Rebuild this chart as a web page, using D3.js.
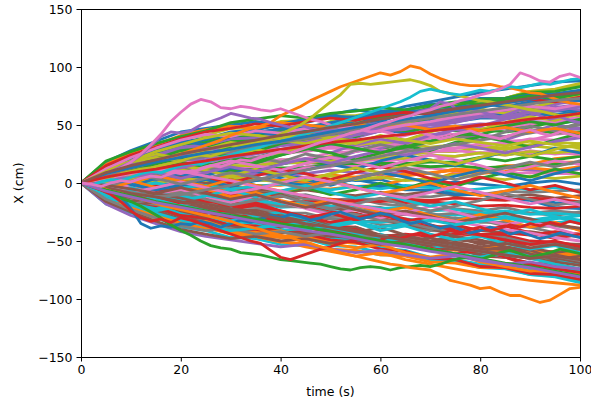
<!DOCTYPE html>
<html><head><meta charset="utf-8">
<script src="https://cdn.jsdelivr.net/npm/d3@7"></script>
<style>
body{margin:0;background:#fff}
svg{display:block}
text{font-family:"DejaVu Sans",sans-serif}
</style>
</head><body>
<svg id="chart" width="591" height="407"></svg>
<script>
// ---- data ----
const xTicks = [0, 20, 40, 60, 80, 100];
const yTicks = [-150, -100, -50, 0, 50, 100, 150];
const xLabel = "time (s)";
const yLabel = "X (cm)";
const coarseTimes = d3.range(0, 101, 5);   // sample times of the bulk walks (s)
const fineTimes = d3.range(0, 101, 2);     // sample times of the edge walks (s)

// bulk walks, X (cm) read every 5 s
const bulkWalks = [
[0,14,22,27,33,35,40,41,44,45,42,44,46,43,47,49,46,50,52,51,54],
[0,-15,-21,-29,-33,-37,-40,-44,-42,-47,-49,-46,-51,-54,-52,-56,-58,-55,-60,-62,-61],
[0,4,9,5,12,14,20,22,28,31,37,40,46,47,54,56,61,63,69,71,76],
[0,-3,-5,-2,-10,-12,-19,-20,-28,-29,-37,-38,-46,-47,-54,-55,-63,-64,-71,-72,-79],
[0,9,13,16,20,22,24,27,28,30,33,31,35,37,36,39,41,40,44,45,47],
[0,-8,-12,-15,-18,-22,-24,-23,-27,-29,-31,-34,-32,-36,-38,-37,-41,-43,-42,-45,-46],
[0,1,-3,2,5,3,8,11,9,14,16,13,18,21,19,23,26,24,28,25,27],
[0,-3,1,-2,-6,-4,-9,-7,-12,-10,-15,-13,-18,-20,-17,-22,-24,-21,-26,-28,-25],
[0,13,20,24,31,33,40,42,46,47,53,54,59,61,66,68,72,73,79,80,84],
[0,-14,-21,-24,-32,-34,-40,-42,-47,-48,-54,-55,-60,-62,-67,-68,-73,-74,-79,-80,-85],
[0,6,9,8,13,10,11,8,9,4,7,2,3,-3,-2,-9,-9,-14,-15,-21,-22],
[0,-5,-9,-7,-13,-9,-12,-7,-10,-5,-5,-3,-2,3,2,9,8,14,16,21,23],
[0,11,16,18,23,25,29,30,35,35,40,41,45,47,52,53,57,58,62,63,67],
[0,-10,-16,-18,-24,-25,-30,-32,-36,-37,-42,-42,-47,-49,-53,-54,-59,-59,-64,-65,-69],
[0,3,5,2,6,4,7,9,6,8,11,9,7,10,8,12,10,13,11,9,12],
[0,-1,-4,-2,-5,-3,-7,-5,-8,-6,-9,-11,-8,-10,-7,-11,-9,-12,-10,-13,-11],
[0,7,11,12,17,17,21,22,26,27,31,32,37,37,42,42,47,47,51,51,55],
[0,-7,-11,-11,-16,-17,-21,-21,-26,-26,-31,-31,-36,-37,-41,-42,-46,-46,-51,-51,-54],
[0,12,17,22,26,29,31,33,35,34,36,33,35,34,31,33,32,30,33,35,34],
[0,-12,-17,-22,-26,-29,-31,-33,-34,-36,-35,-33,-34,-31,-33,-30,-32,-29,-31,-34,-33],
[0,17,23,29,35,39,42,44,46,48,50,52,51,54,56,55,58,60,59,62,63],
[0,-17,-24,-29,-35,-39,-43,-45,-47,-49,-50,-52,-54,-53,-56,-58,-57,-60,-62,-61,-64],
[0,4,7,6,11,8,12,12,13,13,16,16,17,17,18,18,22,19,23,20,23],
[0,-4,-5,-7,-9,-8,-10,-12,-11,-13,-14,-16,-15,-17,-16,-18,-20,-19,-21,-22,-20],
[0,9,13,15,20,20,26,27,32,34,39,41,47,48,54,55,61,63,69,70,75],
[0,-8,-14,-15,-20,-21,-26,-28,-33,-35,-41,-42,-48,-49,-55,-57,-62,-64,-69,-70,-74],
[0,-4,-7,-4,-4,1,2,7,8,13,14,19,20,25,26,30,31,36,37,42,44],
[0,3,6,3,3,-2,-3,-8,-9,-14,-15,-20,-21,-26,-26,-31,-32,-37,-38,-43,-44],
[0,6,10,10,14,14,18,17,20,20,23,22,25,24,27,27,30,29,32,30,32],
[0,-6,-10,-10,-14,-14,-18,-17,-21,-20,-23,-22,-26,-25,-28,-27,-30,-29,-32,-29,-32],
[0,16,23,27,35,37,43,43,47,47,50,49,52,51,54,53,56,56,59,59,62],
[0,-16,-23,-27,-34,-36,-42,-42,-46,-46,-49,-48,-51,-50,-54,-53,-56,-55,-59,-59,-61],
[0,1,1,5,5,10,10,15,16,21,22,28,29,34,36,41,42,47,48,53,54],
[0,-1,-3,-3,-8,-8,-13,-14,-19,-20,-25,-26,-31,-33,-38,-39,-44,-45,-50,-51,-55],
[0,13,20,22,29,31,37,38,42,43,47,48,52,53,57,57,61,61,65,64,66],
[0,-13,-19,-22,-29,-31,-37,-38,-42,-43,-47,-48,-52,-53,-57,-57,-61,-60,-64,-64,-66],
[0,8,12,13,18,17,20,19,20,17,18,15,15,12,13,10,11,8,9,8,8],
[0,-8,-12,-13,-18,-17,-20,-18,-19,-16,-17,-14,-14,-11,-12,-9,-10,-7,-8,-7,-6],
[0,11,17,19,26,28,33,35,40,42,48,50,56,58,64,66,71,73,79,81,86],
[0,-11,-17,-19,-26,-28,-33,-35,-40,-42,-48,-50,-56,-58,-64,-66,-71,-73,-79,-81,-86],
[0,3,5,4,7,4,5,2,3,0,1,-3,-3,-6,-6,-10,-10,-14,-14,-17,-18],
[0,-3,-5,-4,-7,-4,-5,-2,-2,1,1,5,4,8,8,12,11,15,15,18,18],
[0,15,22,25,33,35,40,40,44,43,46,44,47,45,47,45,46,44,46,43,44],
[0,-15,-22,-25,-33,-35,-40,-40,-43,-42,-45,-43,-46,-44,-46,-44,-45,-43,-45,-42,-44],
[0,10,15,16,22,23,28,28,33,34,39,40,45,46,51,52,57,57,62,62,66],
[0,-10,-15,-16,-22,-23,-28,-28,-33,-34,-39,-40,-45,-46,-51,-52,-57,-57,-62,-62,-66],
[0,5,7,7,11,10,14,14,18,18,22,22,26,26,30,30,34,34,38,37,40],
[0,-5,-7,-7,-11,-10,-14,-14,-18,-18,-22,-22,-26,-26,-30,-30,-34,-34,-38,-37,-40],
[0,18,26,30,38,41,47,48,53,54,58,58,62,62,66,66,70,70,74,73,75],
[0,-18,-26,-30,-38,-41,-47,-48,-53,-54,-58,-58,-62,-62,-66,-66,-70,-70,-74,-73,-76],
[0,2,-2,1,-3,-1,2,4,1,-2,0,3,-1,-4,-2,1,-1,-3,0,2,-1],
[0,-2,2,4,1,3,6,4,2,5,7,5,8,6,9,11,8,10,13,11,14],
[0,7,10,12,15,16,17,18,17,18,16,17,15,16,14,15,13,14,15,16,17],
[0,-7,-10,-12,-15,-16,-17,-18,-17,-16,-17,-15,-16,-14,-15,-13,-14,-15,-13,-14,-16],
[0,-5,-8,-5,-5,0,2,8,10,17,20,27,30,36,39,46,49,55,58,65,68],
[0,5,8,5,5,0,-2,-8,-10,-17,-20,-27,-30,-36,-39,-46,-49,-55,-58,-65,-69],
[0,11,15,19,23,25,27,28,29,29,30,29,28,29,27,28,26,27,25,26,25],
[0,-11,-15,-19,-23,-25,-27,-28,-29,-30,-29,-28,-29,-27,-28,-26,-27,-25,-26,-24,-26],
[0,1,3,0,4,2,5,3,1,4,6,3,5,2,4,7,5,3,6,4,6],
[0,-1,-3,0,-4,-2,-5,-3,-1,-4,-6,-3,-5,-2,-4,-7,-5,-3,-6,-4,-7],
[0,16,23,27,35,38,44,46,51,52,57,57,62,63,68,69,73,73,77,77,80],
[0,-16,-23,-27,-35,-38,-44,-46,-51,-52,-57,-58,-62,-63,-68,-69,-73,-73,-77,-77,-80],
[0,12,18,21,28,30,36,37,42,44,49,51,57,59,65,66,72,73,78,79,83],
[0,-12,-18,-21,-28,-30,-36,-37,-42,-44,-49,-51,-57,-59,-65,-66,-72,-73,-78,-79,-83],
[0,14,21,24,31,33,38,39,43,43,46,45,48,47,50,49,51,50,53,52,54],
[0,-14,-21,-24,-31,-33,-38,-39,-43,-43,-46,-45,-48,-47,-50,-49,-51,-50,-53,-52,-53],
[0,3,5,5,9,9,14,15,20,21,26,27,32,34,39,41,46,47,52,53,57],
[0,-3,-5,-5,-9,-9,-14,-15,-20,-21,-26,-27,-32,-34,-39,-41,-46,-47,-52,-53,-57],
[0,5,9,8,12,12,15,15,18,17,20,19,22,21,24,23,26,24,27,26,28],
[0,-5,-9,-8,-12,-12,-15,-15,-18,-17,-20,-19,-22,-21,-24,-23,-26,-24,-27,-26,-28],
[0,-6,-3,4,9,6,13,10,5,11,16,12,19,24,20,15,21,27,23,30,26],
[0,7,2,-4,-9,-5,-12,-8,-15,-20,-14,-19,-25,-21,-28,-33,-27,-32,-38,-34,-41],
[0,4,11,7,2,-3,3,-2,-8,-4,-10,-6,0,-5,2,-3,4,9,5,12,8],
[0,-5,-11,-8,-2,4,0,6,12,8,3,9,14,10,4,-1,5,0,-6,-2,-8],
[0,9,17,14,22,27,24,31,35,30,26,33,38,34,41,46,42,37,44,50,47],
[0,-9,-16,-12,-20,-26,-22,-29,-34,-30,-37,-43,-38,-45,-50,-46,-53,-49,-56,-60,-57],
[0,3,-4,-9,-6,-13,-17,-11,-16,-22,-27,-23,-30,-26,-20,-25,-31,-36,-32,-39,-45],
[0,-4,3,8,14,10,17,22,18,25,21,28,33,29,36,41,37,44,49,45,52],
[0,12,19,25,21,29,35,32,39,36,43,48,45,52,57,54,60,65,62,69,73],
[0,-12,-19,-24,-20,-28,-34,-31,-38,-35,-42,-47,-44,-51,-56,-53,-59,-64,-61,-67,-71],
[0,5,-1,-6,-2,3,-3,2,7,3,-2,4,9,5,0,6,11,7,2,8,13],
[0,-6,1,6,2,-3,3,-2,-7,-3,2,-4,-9,-5,0,-6,-11,-7,-2,-8,-13],
[0,10,6,13,18,14,21,17,24,30,26,20,26,32,28,35,40,36,31,37,43],
[0,-10,-6,-13,-18,-14,-21,-17,-24,-30,-26,-32,-27,-33,-29,-36,-41,-37,-43,-48,-44],
[0,14,20,16,24,30,27,34,38,35,42,39,45,50,47,53,58,55,61,66,63],
[0,-13,-20,-16,-24,-29,-26,-33,-38,-35,-41,-38,-45,-50,-47,-53,-58,-55,-61,-66,-63],
[0,2,7,12,8,14,19,15,11,17,22,18,13,19,24,20,15,9,14,19,16],
[0,-2,-7,-12,-8,-14,-19,-15,-11,-17,-22,-18,-13,-19,-24,-20,-15,-9,-14,-19,-16],
[0,8,4,10,15,11,6,12,7,2,8,13,9,15,20,16,22,27,23,29,34],
[0,-8,-4,-10,-15,-11,-6,-12,-7,-2,-8,-13,-9,-15,-20,-16,-22,-27,-23,-29,-35],
[0,16,24,30,36,33,40,44,41,48,52,56,53,60,64,61,68,72,76,73,79],
[0,-16,-24,-30,-36,-33,-40,-44,-41,-48,-52,-56,-53,-60,-64,-61,-68,-72,-76,-73,-79],
[0,5,10,15,20,25,30,27,34,38,43,40,47,52,56,61,58,64,69,74,77],
[0,-5,-10,-15,-20,-25,-30,-27,-34,-38,-43,-40,-47,-52,-56,-61,-58,-64,-69,-74,-77],
[0,6,12,9,4,9,14,10,16,21,17,23,28,24,29,34,30,26,31,36,39],
[0,-6,-12,-9,-4,-9,-14,-10,-16,-21,-17,-23,-28,-24,-29,-34,-30,-26,-31,-36,-39],
[0,-3,-8,-4,1,-4,-9,-5,0,5,1,-4,-9,-13,-8,-3,-8,-13,-18,-14,-19],
[0,3,8,4,-1,4,9,5,0,-5,-1,4,9,13,8,3,8,13,18,14,19],
[0,11,7,14,20,26,22,29,25,32,38,34,41,37,44,49,46,52,57,54,60],
[0,-11,-7,-14,-20,-26,-22,-29,-25,-32,-38,-34,-41,-37,-44,-49,-46,-52,-57,-54,-60],
[0,15,21,27,33,38,42,46,50,55,59,63,60,66,70,74,78,81,84,87,88],
[0,-15,-21,-27,-33,-38,-42,-46,-50,-55,-59,-63,-60,-66,-70,-74,-78,-81,-84,-86,-88],
[0,7,12,17,21,26,23,19,24,29,34,30,26,31,36,41,45,49,53,50,55],
[0,-7,-12,-17,-21,-26,-23,-19,-24,-29,-34,-30,-26,-31,-36,-41,-45,-49,-53,-50,-55],
[0,2,5,9,13,18,22,25,29,33,38,41,45,48,51,55,58,62,65,68,71],
[0,-2,-5,-9,-13,-18,-22,-25,-29,-33,-38,-41,-45,-48,-51,-55,-58,-62,-65,-68,-71],
[0,4,8,12,10,6,2,-3,-7,-11,-15,-19,-23,-27,-30,-33,-37,-40,-43,-47,-50],
[0,-4,-8,-12,-10,-6,-2,3,7,11,15,19,23,27,30,33,37,40,43,47,50],
[0,13,18,22,19,24,28,33,37,34,39,43,47,52,57,61,64,60,65,70,74],
[0,-13,-18,-22,-19,-24,-28,-33,-37,-34,-39,-43,-47,-52,-57,-61,-64,-60,-65,-70,-74],
[0,18,28,36,44,47,50,53,51,55,58,56,60,63,61,65,68,66,70,72,71],
[0,16,26,33,41,46,49,47,52,50,48,51,47,50,46,49,45,48,44,47,43],
[0,19,27,34,40,45,52,55,58,56,60,62,65,63,67,70,68,72,75,73,77],
[0,15,24,31,38,44,47,51,49,53,56,54,58,61,59,64,66,69,72,70,74],
[0,-18,-28,-35,-42,-46,-49,-52,-55,-53,-57,-60,-58,-62,-65,-63,-67,-70,-68,-72,-74],
[0,-16,-25,-33,-40,-44,-48,-46,-50,-48,-52,-49,-53,-50,-54,-51,-55,-52,-56,-53,-57],
[0,12,22,30,37,42,40,45,43,47,44,48,46,50,53,57,60,63,66,64,68],
[0,-14,-23,-30,-37,-41,-39,-44,-42,-46,-43,-47,-45,-49,-52,-56,-59,-62,-65,-63,-67],
[0,10,19,27,33,39,43,41,38,42,39,36,40,37,34,38,35,32,36,33,30],
[0,-10,-19,-26,-32,-37,-41,-39,-36,-40,-37,-34,-38,-35,-32,-36,-33,-30,-34,-31,-28]
];

// walks along the edge of the fan (drawn last, on top); 51 values = every 2 s, 21 values = every 5 s
const edgeWalks = [
[0,-2,-5,-8,-12,-22,-35,-39,-37,-38,-35,-36,-33,-35,-38,-35,-32,-34,-31,-28,-30,-27,-29,-32,-30,-27,-25,-28,-31,-29,-26,-28,-32,-35,-33,-36,-39,-37,-40,-43,-41,-38,-40,-44,-42,-45,-48,-46,-43,-45,-47],
[0,2,5,8,10,13,15,18,20,22,25,28,31,34,37,41,44,47,49,52,58,62,66,71,75,79,83,86,89,92,95,93,96,101,99,94,90,87,85,84,84,85,83,82,80,78,77,74,71,69,68],
[0,-3,-6,-9,-13,-16,-20,-25,-30,-36,-41,-45,-50,-54,-56,-57,-60,-61,-62,-64,-66,-67,-68,-69,-70,-72,-74,-75,-73,-72,-73,-75,-73,-72,-71,-72,-70,-67,-65,-64,-66,-63,-60,-58,-61,-64,-62,-60,-57,-59,-61],
[0,-3,-6,-10,-16,-24,-30,-33,-31,-34,-30,-32,-35,-38,-41,-44,-47,-50,-52,-58,-64,-66,-63,-60,-57,-55,-52,-50,-48,-51,-49,-46,-48,-45,-43,-46,-44,-41,-43,-40,-38,-41,-39,-36,-38,-35,-37,-34,-36,-33,-35],
[0,3,6,10,14,18,24,32,40,44,43,45,50,53,56,60,58,56,55,52,50,48,50,47,44,45,42,40,43,45,48,51,55,58,62,64,70,68,61,64,62,59,57,60,63,61,58,55,57,54,52],
[0,-4,-9,-12,-16,-20,-24,-27,-31,-35,-38,-42,-46,-49,-52,-56,-59,-62,-65,-63,-66],
[0,3,6,9,13,18,25,33,42,53,61,68,72,70,65,64,66,65,63,62,64,61,58,55,53,50,48,49,46,44,45,43,40,42,44,41,38,40,43,45,42,40,38,41,44,46,43,41,44,42,40],
[0,6,10,14,19,23,27,31,35,38,42,46,49,53,56,59,62,65,68,71,73],
[0,2,4,5,8,10,12,13,15,17,19,22,24,23,26,29,31,33,36,38,42,46,50,56,63,70,76,85,86,85,86,87,88,89,87,84,79,77,75,73,71,70,68,67,65,63,62,60,58,59,58],
[0,-2,1,3,2,5,8,10,9,12,15,17,16,19,22,24,27,29,31,34,36,38,41,44,46,49,52,55,58,61,64,67,70,74,79,81,79,77,76,78,80,79,81,83,82,84,86,85,87,89,90],
[0,8,13,18,22,26,29,33,36,40,44,48,51,55,58,62,65,69,72,76,79],
[0,-2,-4,-7,-9,-12,-14,-16,-19,-21,-23,-25,-27,-29,-31,-33,-36,-38,-40,-43,-45,-47,-50,-52,-55,-57,-60,-62,-64,-66,-68,-70,-71,-73,-74,-75,-79,-84,-86,-88,-91,-90,-94,-97,-97,-100,-103,-101,-96,-91,-90],
[0,-6,-11,-16,-20,-24,-28,-31,-35,-38,-42,-46,-50,-53,-57,-61,-65,-69,-72,-76,-80],
[0,5,9,12,16,19,23,26,29,32,35,37,40,42,45,47,50,52,55,57,60],
[0,-7,-12,-17,-21,-25,-29,-33,-37,-41,-44,-48,-52,-55,-59,-62,-66,-70,-73,-77,-81],
[0,9,15,20,25,29,33,37,41,44,48,51,55,58,61,64,67,70,73,76,78],
[0,-1,-3,0,2,1,4,6,5,8,10,9,12,15,14,17,20,19,22,25,27,26,29,32,35,37,40,43,45,48,51,53,56,58,61,63,66,68,71,73,76,78,81,85,95,92,88,87,92,94,91]
];

const palette = ["#1f77b4","#ff7f0e","#2ca02c","#d62728","#9467bd","#8c564b","#e377c2","#7f7f7f","#bcbd22","#17becf"];

// ---- drawing ----
const svg = d3.select("#chart");
const pL = 81, pR = 580, pT = 9, pB = 357;
const x = d3.scaleLinear().domain([0, 100]).range([pL, pR]);
const y = d3.scaleLinear().domain([-150, 150]).range([pB, pT]);

svg.append("defs").append("clipPath").attr("id", "plotClip")
  .append("rect").attr("x", pL).attr("y", pT).attr("width", pR - pL).attr("height", pB - pT);

const allWalks = bulkWalks.concat(edgeWalks);
const walkPath = (vals) => {
  const times = vals.length === fineTimes.length ? fineTimes : coarseTimes;
  return d3.line().x((d, i) => x(times[i])).y(d => y(d))(vals);
};
const g = svg.append("g").attr("clip-path", "url(#plotClip)");
g.selectAll("path").data(allWalks).join("path")
  .attr("d", d => walkPath(d))
  .attr("fill", "none")
  .attr("stroke", (d, i) => palette[i % 10])
  .attr("stroke-width", 2.8)
  .attr("stroke-linejoin", "round")
  .attr("stroke-linecap", "round");

const fmt = d => d < 0 ? "\u2212" + Math.abs(d) : String(d);
const xAxis = svg.append("g").attr("transform", `translate(0,${pB})`)
  .call(d3.axisBottom(x).tickValues(xTicks).tickFormat(fmt).tickSize(4.5).tickPadding(4));
const yAxis = svg.append("g").attr("transform", `translate(${pL},0)`)
  .call(d3.axisLeft(y).tickValues(yTicks).tickFormat(fmt).tickSize(4.5).tickPadding(4));
[xAxis, yAxis].forEach(a => {
  a.select(".domain").remove();
  a.selectAll("line").attr("stroke", "#000").attr("stroke-width", 1);
  a.selectAll("text").attr("fill", "#000").style("font-size", "12.5px").style("font-family", "DejaVu Sans");
});

svg.append("rect").attr("x", pL + 0.5).attr("y", pT + 0.5)
  .attr("width", pR - pL).attr("height", pB - pT)
  .attr("fill", "none").attr("stroke", "#000").attr("stroke-width", 1);

svg.append("text").attr("x", (pL + pR) / 2).attr("y", 396)
  .attr("text-anchor", "middle").style("font-size", "12.5px").text(xLabel);
svg.append("text").attr("transform", `translate(23,${(pT + pB) / 2}) rotate(-90)`)
  .attr("text-anchor", "middle").style("font-size", "12.5px").text(yLabel);
</script>
</body></html>
